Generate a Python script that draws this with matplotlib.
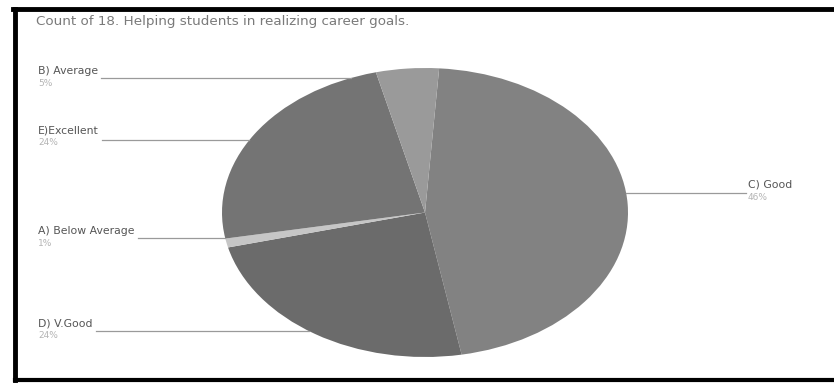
import numpy as np
import matplotlib
matplotlib.use("Agg")
import matplotlib.pyplot as plt
from matplotlib.lines import Line2D

# slices, clockwise from just right of 12 o'clock (percent of responses)
categories = ["C) Good", "D) V.Good", "A) Below Average", "E)Excellent", "B) Average"]
shares = [46, 24, 1, 24, 5]
slice_colors = ["#828282", "#6b6b6b", "#c6c6c6", "#747474", "#9a9a9a"]

title = "Count of 18. Helping students in realizing career goals."

W, H = 834, 384
fig = plt.figure(figsize=(W / 100, H / 100), dpi=100)
fig.patch.set_facecolor("white")


def fx(px):
    return px / W


def fy(py):
    return 1 - py / H


# pie bounding box in pixels (elliptical, stretched)
pl, pr, pt, pb = 222, 628, 68, 357
ax = fig.add_axes([fx(pl), fy(pb), fx(pr - pl), (pb - pt) / H])
ax.pie(shares, colors=slice_colors, startangle=86, counterclock=False,
       wedgeprops=dict(linewidth=0))
ax.set_aspect("auto")
ax.set_xlim(-1, 1)
ax.set_ylim(-1, 1)
ax.axis("off")

cx, cy = (pl + pr) / 2, (pt + pb) / 2
rx, ry = (pr - pl) / 2, (pb - pt) / 2


def edge_x(py, side):
    d = (py - cy) / ry
    return cx + side * rx * np.sqrt(max(0.0, 1 - d * d))


# black frame of the screenshot
fig.add_artist(Line2D([fx(13), fx(834)], [fy(9), fy(9)], color="black", lw=3.5))
fig.add_artist(Line2D([fx(15), fx(15)], [fy(9), fy(380)], color="black", lw=3.5))
fig.add_artist(Line2D([fx(15), fx(834)], [fy(380), fy(380)], color="black", lw=3))

fig.text(fx(36), fy(22), title, fontsize=9.7, color="#7a7a7a",
         ha="left", va="center")

# label positions (pixels): name x, name y, line y, side
label_pos = {
    "B) Average": (38, 71, 78, -1),
    "E)Excellent": (38, 131, 140, -1),
    "A) Below Average": (38, 231, 238, -1),
    "D) V.Good": (38, 323, 331, -1),
    "C) Good": (748, 185, 193, 1),
}

fig.canvas.draw()
renderer = fig.canvas.get_renderer()

for name, share in zip(categories, shares):
    lx, ly, liney, side = label_pos[name]
    t = fig.text(fx(lx), fy(ly), name, fontsize=7.8, color="#555555",
                 ha="left", va="center")
    fig.text(fx(lx), fy(ly + 12), f"{share}%", fontsize=6.5, color="#b4b4b4",
             ha="left", va="center")
    ex = edge_x(liney, side)
    if side < 0:
        x0 = t.get_window_extent(renderer).x1 + 3
        fig.add_artist(Line2D([fx(x0), fx(ex)], [fy(liney), fy(liney)],
                              color="#9a9a9a", lw=0.9))
    else:
        fig.add_artist(Line2D([fx(ex), fx(lx - 2)], [fy(liney), fy(liney)],
                              color="#9a9a9a", lw=0.9))

fig.savefig("out.png", dpi=100, facecolor="white")
